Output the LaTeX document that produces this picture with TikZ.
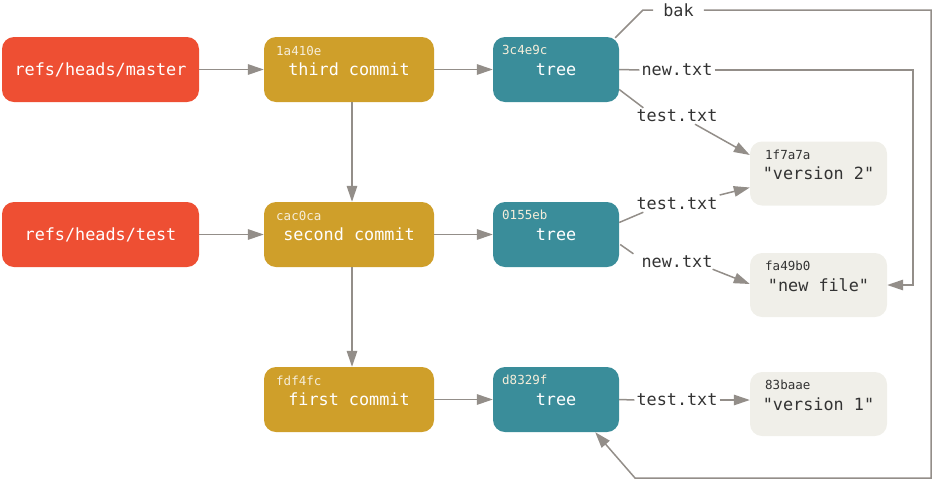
\documentclass[tikz,border=0pt]{standalone}
\usepackage{fontspec}
\setmonofont{DejaVu Sans Mono}
\usetikzlibrary{arrows.meta,calc}
\definecolor{refc}{HTML}{EE4F33}
\definecolor{comc}{HTML}{CF9F2A}
\definecolor{treec}{HTML}{3A8D9A}
\definecolor{blobc}{HTML}{F0EFE9}
\definecolor{linec}{HTML}{938E89}
\definecolor{txtc}{HTML}{333333}
\definecolor{hashc}{HTML}{F6EEDA}
\begin{document}
\begin{tikzpicture}[x=1pt,y=-1pt,
  box/.style={rounded corners=12pt, inner sep=0pt, text=white, font=\ttfamily\fontsize{16.8}{20}\selectfont},
  refbox/.style={box, fill=refc, minimum width=197pt, minimum height=65pt},
  combox/.style={box, fill=comc, minimum width=170pt, minimum height=65pt},
  treebox/.style={box, fill=treec, minimum width=126pt, minimum height=65pt},
  blobbox/.style={box, fill=blobc, text=txtc, minimum width=137pt, minimum height=64pt},
  hash/.style={anchor=west, inner sep=0pt, font=\ttfamily\fontsize{12.5}{14}\selectfont, text=hashc},
  blobhash/.style={hash, text=txtc},
  lbl/.style={inner sep=2pt, text=txtc, font=\ttfamily\fontsize{16.8}{20}\selectfont},
  ln/.style={draw=linec, line width=1.5pt},
  arr/.style={ln, -{Triangle[length=16pt,width=10.5pt]}},
]
\useasboundingbox (0,0) rectangle (935,483);

% refs
\node[refbox] (master) at (100.5,69.5) {refs/heads/master};
\node[refbox] (testref) at (100.5,234.5) {refs/heads/test};

% commits
\node[combox] (c3) at (349,69.5) {third commit};
\node[combox] (c2) at (349,234.5) {second commit};
\node[combox] (c1) at (349,399.5) {first commit};
\node[hash] (c3h) at (276,51) {1a410e};
\node[hash] (c2h) at (276,216) {cac0ca};
\node[hash] (c1h) at (276,381) {fdf4fc};

% trees
\node[treebox] (t3) at (556,69.5) {tree};
\node[treebox] (t2) at (556,234.5) {tree};
\node[treebox] (t1) at (556,399.5) {tree};
\node[hash] (t3h) at (502,50) {3c4e9c};
\node[hash] (t2h) at (502,215) {0155eb};
\node[hash] (t1h) at (502,380) {d8329f};

% blobs
\node[blobbox] (b2) at (818.5,173.5) {"version 2"};
\node[blobbox] (bn) at (818.5,285) {"new file"};
\node[blobbox] (b1) at (818.5,404) {"version 1"};
\node[blobhash] (b2h) at (765,154.5) {1f7a7a};
\node[blobhash] (bnh) at (765,266) {fa49b0};
\node[blobhash] (b1h) at (765,385) {83baae};

% ref -> commit
\draw[arr] (master) -- (c3);
\draw[arr] (testref) -- (c2);
% parent links
\draw[arr] ($(c3.south)+(3,0)$) -- ($(c2.north)+(3,0)$);
\draw[arr] ($(c2.south)+(3,0)$) -- ($(c1.north)+(3,0)$);
% commit -> tree
\draw[arr] (c3) -- (t3);
\draw[arr] (c2) -- (t2);
\draw[arr] (c1) -- (t1);

% tree 3c4e9c entries
\node[lbl, inner xsep=10pt] (bak) at (678.5,10) {bak};
\coordinate (bakbend) at (643,10);
\coordinate (bakne) at (931,10);
\coordinate (bakse) at (931,478);
\coordinate (baksw) at (635,478);
\draw[ln] ($(t3.north east)+(-4,1)$) -- (bakbend) -- (bak.west);
\draw[arr] (bak.east) -- (bakne) -- (bakse) -- (baksw) -- ($(t1.south east)+(-24,0)$);

\node[lbl] (n3) at (677,70) {new.txt};
\coordinate (nne) at (913,70);
\draw[ln] (t3.east) -- (n3.west);
\draw[arr] (n3.east) -- (nne) -- (nne |- bn.east) -- (bn.east);

\node[lbl] (ts3) at (677,116) {test.txt};
\draw[ln] ($(t3.east)+(0,20)$) -- ($(ts3.north west)+(9,0)$);
\draw[arr] ($(ts3.south)+(18,0)$) -- ($(b2.west)+(0,-18.5)$);

% tree 0155eb entries
\node[lbl] (ts2) at (677,204) {test.txt};
\draw[ln] ($(t2.east)+(0,-12)$) -- ($(ts2.south west)+(9,0)$);
\draw[arr] ($(ts2.east)+(0,-9)$) -- ($(b2.west)+(0,14)$);

\node[lbl] (n2) at (677,262) {new.txt};
\draw[ln] ($(t2.east)+(1,10)$) -- ($(n2.north west)+(-6,0)$);
\draw[arr] ($(n2.south east)+(-2,-1)$) -- ($(bn.west)+(0,-1)$);

% tree d8329f entries
\node[lbl] (ts1) at (677,400) {test.txt};
\draw[ln] (t1.east) -- (ts1.west);
\draw[arr] (ts1.east) -- (ts1.east -| b1.west);
\end{tikzpicture}
\end{document}
